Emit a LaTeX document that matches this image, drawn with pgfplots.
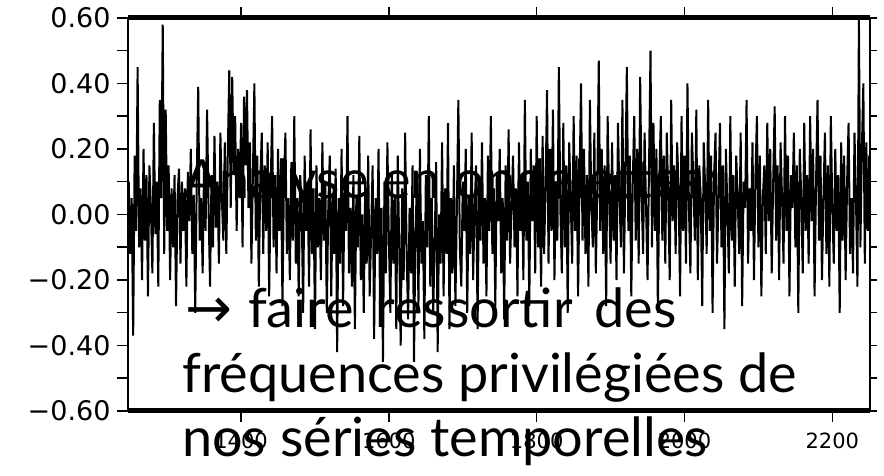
\documentclass[border=0pt]{standalone}
\usepackage{fontspec}
\setmainfont{DejaVu Sans}
\newfontfamily\slidefont{Lato}
\newfontfamily\arrowfont{DejaVu Sans}
\usepackage{pgfplots}
\pgfplotsset{compat=1.18}

\begin{document}
\begin{tikzpicture}[x=1pt,y=1pt]
\path[use as bounding box] (0,0) rectangle (884,476);
\begin{axis}[
  name=main,
  at={(128pt,65pt)}, anchor=south west,
  width=742pt, height=393pt, scale only axis,
  xmin=1247, xmax=2251, ymin=-0.6, ymax=0.6,
  clip=false,
  xtick={1400,1600,1800,2000,2200},
  xticklabels={1400,1600,1800,2000,2200},
  ytick={-0.6,-0.4,-0.2,0,0.2,0.4,0.6},
  yticklabels={−0.60,−0.40,−0.20,0.00,0.20,0.40,0.60},
  minor ytick={-0.5,-0.3,-0.1,0.1,0.3,0.5},
  tick align=outside, xtick pos=both, ytick pos=left,
  major tick length=11pt, minor tick length=11pt,
  tick style={black, line width=1.5pt},
  axis line style={line width=1.5pt},
  yticklabel style={font=\fontsize{27}{27}\selectfont, xshift=-3pt},
  xticklabel style={font=\fontsize{21}{21}\selectfont, yshift=-7pt},
]
\addplot[black, line width=2pt] coordinates {
(1248,0.10)(1250,-0.12)(1252,0.05)(1254,-0.37)(1256,0.18)(1258,-0.05)(1260,0.45)(1262,-0.10)(1264,0.08)(1266,-0.20)
(1268,0.20)(1270,-0.08)(1272,0.12)(1274,-0.25)(1276,0.15)(1278,0.02)(1280,-0.18)(1282,0.28)(1284,-0.06)(1286,0.10)
(1288,-0.22)(1290,0.35)(1292,0.05)(1294,0.58)(1296,-0.12)(1298,0.32)(1300,-0.05)(1302,0.15)(1304,-0.20)(1306,0.08)
(1308,-0.10)(1310,0.12)(1312,-0.28)(1314,0.05)(1316,0.14)(1318,-0.15)(1320,0.10)(1322,-0.05)(1324,0.08)(1326,-0.22)
(1328,0.13)(1330,-0.02)(1332,0.20)(1334,-0.12)(1336,0.06)(1338,-0.30)(1340,0.10)(1342,0.39)(1344,-0.08)(1346,0.05)
(1348,-0.18)(1350,0.16)(1352,-0.05)(1354,0.32)(1356,0.02)(1358,-0.22)(1360,0.12)(1362,-0.10)(1364,0.24)(1366,-0.04)
(1368,0.10)(1370,-0.15)(1372,0.25)(1374,0.05)(1376,-0.08)(1378,0.22)(1380,-0.12)(1382,0.18)(1384,0.44)(1386,0.02)
(1388,0.42)(1390,0.12)(1392,0.30)(1394,-0.05)(1396,0.20)(1398,0.05)(1400,0.28)(1402,-0.10)(1404,0.36)(1406,0.15)
(1408,0.38)(1410,0.02)(1412,0.22)(1414,-0.15)(1416,0.12)(1418,0.40)(1420,-0.08)(1422,0.18)(1424,-0.22)(1426,0.10)
(1428,0.25)(1430,-0.12)(1432,0.15)(1434,-0.05)(1436,0.22)(1438,-0.25)(1440,0.08)(1442,0.30)(1444,-0.10)(1446,0.12)
(1448,-0.18)(1450,0.20)(1452,-0.05)(1454,0.14)(1456,-0.28)(1458,0.10)(1460,0.25)(1462,-0.12)(1464,0.05)(1466,-0.20)
(1468,0.16)(1470,-0.08)(1472,0.30)(1474,-0.15)(1476,0.05)(1478,-0.25)(1480,0.12)(1482,0.02)(1484,-0.30)(1486,0.18)
(1488,-0.05)(1490,0.10)(1492,-0.22)(1494,0.26)(1496,-0.12)(1498,0.08)(1500,-0.35)(1502,0.15)(1504,-0.10)(1506,0.05)
(1508,-0.20)(1510,0.22)(1512,-0.08)(1514,0.10)(1516,-0.30)(1518,0.02)(1520,0.18)(1522,-0.25)(1524,0.06)(1526,-0.12)
(1528,0.14)(1530,-0.42)(1532,0.05)(1534,-0.15)(1536,0.20)(1538,-0.28)(1540,0.08)(1542,-0.05)(1544,0.30)(1546,-0.18)
(1548,0.02)(1550,-0.22)(1552,0.12)(1554,-0.35)(1556,0.06)(1558,-0.10)(1560,0.24)(1562,-0.20)(1564,0.00)(1566,-0.30)
(1568,0.10)(1570,-0.15)(1572,0.18)(1574,-0.25)(1576,-0.05)(1578,0.15)(1580,-0.38)(1582,0.05)(1584,-0.12)(1586,0.20)
(1588,-0.28)(1590,0.02)(1592,-0.45)(1594,0.10)(1596,-0.18)(1598,0.22)(1600,-0.08)(1602,-0.30)(1604,0.12)(1606,-0.15)
(1608,0.05)(1610,-0.35)(1612,0.18)(1614,-0.10)(1616,-0.40)(1618,0.08)(1620,-0.20)(1622,0.25)(1624,-0.12)(1626,-0.32)
(1628,0.02)(1630,-0.18)(1632,0.15)(1634,-0.45)(1636,-0.05)(1638,0.10)(1640,-0.28)(1642,0.20)(1644,-0.15)(1646,-0.02)
(1648,-0.38)(1650,0.12)(1652,-0.10)(1654,0.30)(1656,-0.22)(1658,0.05)(1660,-0.30)(1662,-0.08)(1664,0.16)(1666,-0.42)
(1668,0.00)(1670,-0.15)(1672,0.22)(1674,-0.25)(1676,0.08)(1678,-0.12)(1680,0.28)(1682,-0.35)(1684,0.05)(1686,-0.18)
(1688,0.15)(1690,-0.28)(1692,0.02)(1694,0.35)(1696,-0.10)(1698,-0.22)(1700,0.10)(1702,-0.05)(1704,0.20)(1706,-0.30)
(1708,0.06)(1710,-0.12)(1712,0.25)(1714,-0.20)(1716,0.02)(1718,0.15)(1720,-0.35)(1722,0.10)(1724,-0.08)(1726,0.22)
(1728,-0.15)(1730,0.05)(1732,-0.25)(1734,0.18)(1736,-0.05)(1738,0.30)(1740,-0.12)(1742,0.08)(1744,-0.28)(1746,0.12)
(1748,-0.02)(1750,0.20)(1752,-0.18)(1754,0.05)(1756,-0.32)(1758,0.15)(1760,-0.08)(1762,0.26)(1764,-0.15)(1766,0.02)
(1768,0.18)(1770,-0.10)(1772,0.08)(1774,-0.25)(1776,0.22)(1778,-0.05)(1780,0.12)(1782,-0.20)(1784,0.35)(1786,-0.08)
(1788,0.10)(1790,-0.28)(1792,0.20)(1794,-0.02)(1796,0.15)(1798,-0.18)(1800,0.30)(1802,-0.10)(1804,0.05)(1806,-0.22)
(1808,0.24)(1810,-0.12)(1812,0.08)(1814,0.38)(1816,-0.15)(1818,0.20)(1820,-0.05)(1822,0.32)(1824,-0.20)(1826,0.10)
(1828,-0.08)(1830,0.45)(1832,0.02)(1834,-0.18)(1836,0.28)(1838,-0.10)(1840,0.15)(1842,-0.30)(1844,0.22)(1846,0.05)
(1848,-0.15)(1850,0.30)(1852,-0.05)(1854,0.18)(1856,-0.25)(1858,0.10)(1860,0.40)(1862,-0.08)(1864,0.20)(1866,-0.12)
(1868,0.12)(1870,-0.22)(1872,0.35)(1874,0.02)(1876,-0.10)(1878,0.25)(1880,-0.18)(1882,0.08)(1884,0.47)(1886,-0.05)
(1888,0.20)(1890,-0.12)(1892,0.15)(1894,-0.28)(1896,0.30)(1898,0.05)(1900,-0.15)(1902,0.22)(1904,-0.08)(1906,0.12)
(1908,-0.20)(1910,0.28)(1912,0.05)(1914,-0.10)(1916,0.35)(1918,-0.18)(1920,0.12)(1922,0.45)(1924,-0.05)(1926,0.18)
(1928,-0.25)(1930,0.10)(1932,0.30)(1934,-0.08)(1936,0.20)(1938,-0.15)(1940,0.42)(1942,0.05)(1944,-0.12)(1946,0.25)
(1948,0.02)(1950,-0.20)(1952,0.15)(1954,0.50)(1956,-0.10)(1958,0.28)(1960,-0.05)(1962,0.20)(1964,-0.30)(1966,0.12)
(1968,0.30)(1970,-0.08)(1972,0.18)(1974,-0.15)(1976,0.25)(1978,0.05)(1980,-0.20)(1982,0.35)(1984,-0.02)(1986,0.15)
(1988,-0.12)(1990,0.22)(1992,0.08)(1994,-0.25)(1996,0.30)(1998,-0.05)(2000,0.18)(2002,-0.15)(2004,0.40)(2006,0.02)
(2008,-0.18)(2010,0.25)(2012,0.10)(2014,-0.08)(2016,0.32)(2018,-0.20)(2020,0.15)(2022,0.05)(2024,-0.28)(2026,0.22)
(2028,0.08)(2030,-0.12)(2032,0.35)(2034,-0.05)(2036,0.18)(2038,-0.30)(2040,0.12)(2042,0.25)(2044,-0.15)(2046,0.05)
(2048,0.28)(2050,-0.10)(2052,0.15)(2054,-0.35)(2056,0.20)(2058,0.02)(2060,-0.18)(2062,0.30)(2064,-0.08)(2066,0.12)
(2068,-0.22)(2070,0.18)(2072,0.05)(2074,-0.12)(2076,0.25)(2078,-0.28)(2080,0.10)(2082,0.02)(2084,0.35)(2086,-0.15)
(2088,0.08)(2090,-0.05)(2092,0.22)(2094,-0.20)(2096,0.12)(2098,0.30)(2100,-0.10)(2102,0.18)(2104,-0.25)(2106,0.05)
(2108,0.15)(2110,-0.12)(2112,0.28)(2114,-0.02)(2116,0.20)(2118,-0.18)(2120,0.10)(2122,0.33)(2124,-0.08)(2126,0.15)
(2128,-0.20)(2130,0.22)(2132,0.05)(2134,-0.15)(2136,0.30)(2138,-0.05)(2140,0.18)(2142,-0.25)(2144,0.12)(2146,0.02)
(2148,0.25)(2150,-0.10)(2152,0.15)(2154,-0.30)(2156,0.20)(2158,0.05)(2160,-0.18)(2162,0.28)(2164,-0.05)(2166,0.12)
(2168,-0.15)(2170,0.30)(2172,-0.02)(2174,0.20)(2176,-0.25)(2178,0.10)(2180,0.35)(2182,-0.08)(2184,0.18)(2186,-0.20)
(2188,0.05)(2190,0.25)(2192,-0.12)(2194,0.15)(2196,-0.22)(2198,0.30)(2200,0.02)(2202,-0.15)(2204,0.20)(2206,-0.05)
(2208,0.12)(2210,-0.30)(2212,0.22)(2214,-0.08)(2216,0.18)(2218,-0.20)(2220,0.10)(2222,0.28)(2224,-0.12)(2226,0.05)
(2228,-0.18)(2230,0.25)(2232,0.05)(2234,-0.22)(2236,0.60)(2238,-0.10)(2240,0.20)(2242,0.40)(2244,-0.15)(2246,0.22)
(2248,-0.05)(2250,0.18)
};
\end{axis}
% short outward ticks on the right-hand side
\begin{axis}[
  at={(128pt,65pt)}, anchor=south west,
  width=742pt, height=393pt, scale only axis,
  xmin=1247, xmax=2251, ymin=-0.6, ymax=0.6,
  axis x line=none, axis y line*=right,
  ytick={-0.6,-0.5,...,0.6}, yticklabels={},
  tick align=outside, major tick length=7pt,
  tick style={black, line width=1.5pt},
  axis line style={line width=1.5pt},
]
\end{axis}
% heavy top and bottom frame lines
\draw[line width=5pt] (main.north west) -- (main.north east);
\draw[line width=5pt] (main.south west) -- (main.south east);
% slide text laid over the chart
\begin{scope}[every node/.style={anchor=base west, inner sep=0pt, font=\slidefont\fontsize{54}{54}\selectfont}]
\node at (183,277) {Analyse en ondelettes:};
\node at (185,148) {{\arrowfont\fontsize{56}{56}\selectfont →}\hspace{16pt}faire\hspace{22pt}ressortir\hspace{22pt}des};
\node at (182,83) {fréquences privilégiées de};
\node at (182,19) {nos séries temporelles};
\end{scope}
\end{tikzpicture}
\end{document}
